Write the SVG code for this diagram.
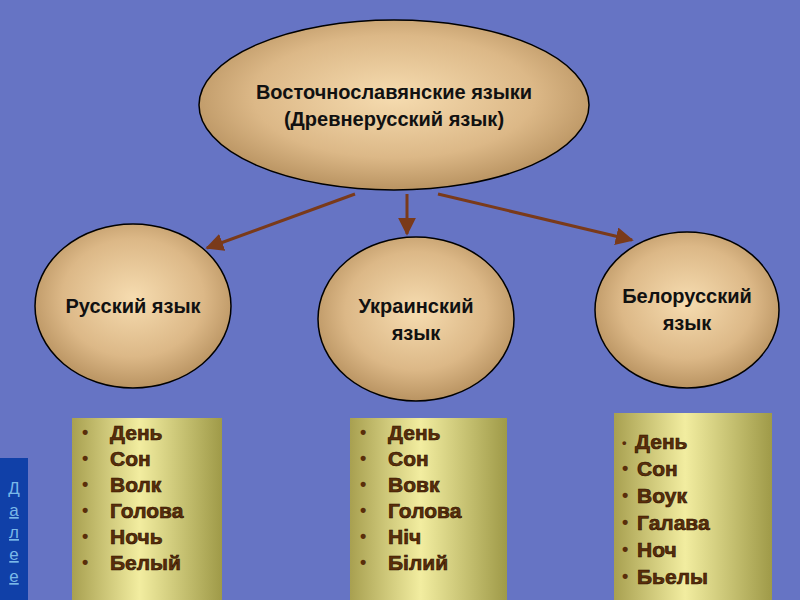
<svg xmlns="http://www.w3.org/2000/svg" width="800" height="600" viewBox="0 0 800 600">
<defs>
<radialGradient id="eg" cx="50%" cy="45%" r="60%"><stop offset="0" stop-color="#f6dcb0"/><stop offset="0.6" stop-color="#dcb887"/><stop offset="1" stop-color="#b08a58"/></radialGradient>
<linearGradient id="bg" x1="0" x2="1" y1="0" y2="0"><stop offset="0" stop-color="#a8a050"/><stop offset="0.45" stop-color="#f2eda0"/><stop offset="1" stop-color="#9f9a48"/></linearGradient>
<marker id="ar" viewBox="0 0 10 10" refX="9" refY="5" markerWidth="6" markerHeight="6" orient="auto"><path d="M0,0 L10,5 L0,10 z" fill="#7a3a1a"/></marker>
</defs>
<style>
.el{fill:url(#eg);stroke:#000;stroke-width:1.5}
.t{font-family:"Liberation Sans",Arial,sans-serif;font-weight:bold;font-size:20px;fill:#111;text-anchor:middle}
.box{fill:url(#bg)}
.li{font-family:"Liberation Sans",Arial,sans-serif;font-weight:bold;font-size:21px;fill:#5a2e0a;stroke:#2a1000;stroke-width:0.6}
.b{font-family:"Liberation Sans",Arial,sans-serif;font-weight:bold;font-size:18px;fill:#5a2e0a}
.c{stroke:#7a3a1a;stroke-width:3;fill:none;marker-end:url(#ar)}
</style>
<rect width="800" height="600" fill="#6674c4"/>
<g id="connectors">
<line class="c" x1="355" y1="194" x2="207" y2="248"/>
<line class="c" x1="407" y1="194" x2="407" y2="234"/>
<line class="c" x1="438" y1="194" x2="632" y2="240"/>
</g>
<g id="root"><ellipse class="el" cx="394" cy="105" rx="195" ry="85"/>
<text class="t" x="394" y="99">Восточнославянские языки</text><text class="t" x="394" y="126">(Древнерусский язык)</text></g>
<g id="ru"><ellipse class="el" cx="133" cy="306" rx="98" ry="82"/><text class="t" x="133" y="313">Русский язык</text></g>
<g id="uk"><ellipse class="el" cx="416" cy="319" rx="98" ry="82"/><text class="t" x="416" y="313">Украинский</text><text class="t" x="416" y="340">язык</text></g>
<g id="be"><ellipse class="el" cx="687" cy="310" rx="92" ry="78"/><text class="t" x="687" y="303">Белорусский</text><text class="t" x="687" y="330">язык</text></g>
<g id="ru-list"><rect class="box" x="72" y="418" width="150" height="182"/>
<g class="b"><text x="82" y="438">•</text><text x="82" y="464">•</text><text x="82" y="490">•</text><text x="82" y="516">•</text><text x="82" y="542">•</text><text x="82" y="568">•</text></g>
<text class="li" x="110" y="440">День</text><text class="li" x="110" y="466">Сон</text><text class="li" x="110" y="492">Волк</text><text class="li" x="110" y="518">Голова</text><text class="li" x="110" y="544">Ночь</text><text class="li" x="110" y="570">Белый</text></g>
<g id="uk-list"><rect class="box" x="350" y="418" width="157" height="182"/>
<g class="b"><text x="360" y="438">•</text><text x="360" y="464">•</text><text x="360" y="490">•</text><text x="360" y="516">•</text><text x="360" y="542">•</text><text x="360" y="568">•</text></g>
<text class="li" x="388" y="440">День</text><text class="li" x="388" y="466">Сон</text><text class="li" x="388" y="492">Вовк</text><text class="li" x="388" y="518">Голова</text><text class="li" x="388" y="544">Ніч</text><text class="li" x="388" y="570">Білий</text></g>
<g id="be-list"><rect class="box" x="614" y="413" width="158" height="187"/>
<g class="b"><text x="622" y="447" font-size="13">•</text><text x="622" y="474">•</text><text x="622" y="501">•</text><text x="622" y="528">•</text><text x="622" y="555">•</text><text x="622" y="582">•</text></g>
<text class="li" x="635" y="449">День</text><text class="li" x="637" y="476">Сон</text><text class="li" x="637" y="503">Воук</text><text class="li" x="637" y="530">Галава</text><text class="li" x="637" y="557">Ноч</text><text class="li" x="637" y="584">Бьелы</text></g>
<g id="next"><rect x="0" y="458" width="28" height="142" fill="#1040a8"/>
<g font-family="Liberation Sans,Arial,sans-serif" font-size="17" fill="#7ab8e8" text-anchor="middle" text-decoration="underline"><text x="14" y="494">Д</text><text x="14" y="516">а</text><text x="14" y="538">л</text><text x="14" y="560">е</text><text x="14" y="582">е</text></g></g>
</svg>
